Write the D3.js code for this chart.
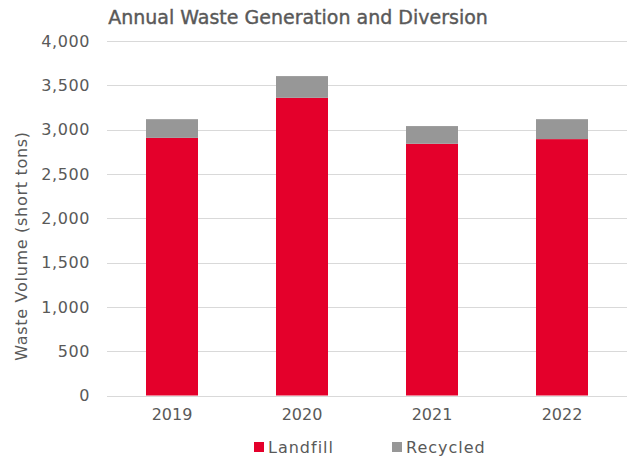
<!DOCTYPE html>
<meta charset="utf-8">
<style>
body { margin: 0; background: #fff; }
text { font-family: "DejaVu Sans", sans-serif; fill: #595959; }
.axis path, .axis line { display: none; }
.grid line { stroke: #d9d9d9; stroke-width: 1; shape-rendering: crispEdges; }
</style>
<body>
<script src="https://d3js.org/d3.v7.min.js"></script>
<div id="draw"></div>
<script>

var years = ["2019", "2020", "2021", "2022"];
var landfill = [2907, 3359, 2840, 2893];
var recycled = [211, 245, 200, 225];
var seriesNames = ["Landfill", "Recycled"];
var seriesColors = ["#e4002b", "#979797"];
var yTicks = [0, 500, 1000, 1500, 2000, 2500, 3000, 3500, 4000];

var width = 630, height = 457;
var margin = {top: 41, right: 3, bottom: 61, left: 107};

var svg = d3.select("#draw").append("svg")
    .attr("width", width)
    .attr("height", height);

var x = d3.scaleBand()
    .domain(years)
    .range([margin.left, width - margin.right])
    .paddingInner(0.6)
    .paddingOuter(0.3);

var y = d3.scaleLinear()
    .domain([0, 4000])
    .range([height - margin.bottom - 0.5, margin.top]);

// gridlines
svg.append("g")
    .attr("class", "grid")
  .selectAll("line")
  .data(yTicks)
  .enter().append("line")
    .attr("x1", margin.left)
    .attr("x2", width - margin.right)
    .attr("y1", function(d) { return Math.round(y(d)) + 0.5; })
    .attr("y2", function(d) { return Math.round(y(d)) + 0.5; });

var data = years.map(function(yr, i) {
  return {year: yr, Landfill: landfill[i], Recycled: recycled[i]};
});

var stack = d3.stack().keys(seriesNames);
var layers = stack(data);

svg.selectAll(".layer")
  .data(layers)
  .enter().append("g")
    .attr("class", "layer")
    .attr("fill", function(d, i) { return seriesColors[i]; })
  .selectAll("rect")
  .data(function(d) { return d; })
  .enter().append("rect")
    .attr("x", function(d) { return x(d.data.year); })
    .attr("width", x.bandwidth())
    .attr("y", function(d) { return y(d[1]); })
    .attr("height", function(d) { return y(d[0]) - y(d[1]); });

// y axis
var yAxis = d3.axisLeft(y)
    .tickValues(yTicks)
    .tickFormat(d3.format(","))
    .tickSize(0)
    .tickPadding(17);

svg.append("g")
    .attr("class", "axis")
    .attr("transform", "translate(" + margin.left + ",0)")
    .call(yAxis)
  .selectAll("text")
    .style("font-size", "16px")
    .style("letter-spacing", "0.6px");

// x axis
var xAxis = d3.axisBottom(x)
    .tickSize(0)
    .tickPadding(13);

svg.append("g")
    .attr("class", "axis")
    .attr("transform", "translate(0," + (height - margin.bottom) + ")")
    .call(xAxis)
  .selectAll("text")
    .style("font-size", "16px");

// title
svg.append("text")
    .attr("x", 298)
    .attr("y", 24)
    .attr("text-anchor", "middle")
    .style("font-size", "19px")
    .style("stroke", "#595959")
    .style("stroke-width", "0.4px")
    .text("Annual Waste Generation and Diversion");

// y axis title
svg.append("text")
    .attr("transform", "translate(27,246) rotate(-90)")
    .attr("text-anchor", "middle")
    .style("font-size", "16px")
    .style("letter-spacing", "0.7px")
    .text("Waste Volume (short tons)");

// legend
var legendX = [254, 392];
var legend = svg.selectAll(".legend")
  .data(seriesNames)
  .enter().append("g")
    .attr("class", "legend")
    .attr("transform", function(d, i) { return "translate(" + legendX[i] + ",442)"; });

legend.append("rect")
    .attr("width", 10)
    .attr("height", 10)
    .attr("fill", function(d, i) { return seriesColors[i]; });

legend.append("text")
    .attr("x", 14)
    .attr("y", 11)
    .style("font-size", "16px")
    .style("letter-spacing", "1px")
    .text(function(d) { return d; });

</script>
</body>
